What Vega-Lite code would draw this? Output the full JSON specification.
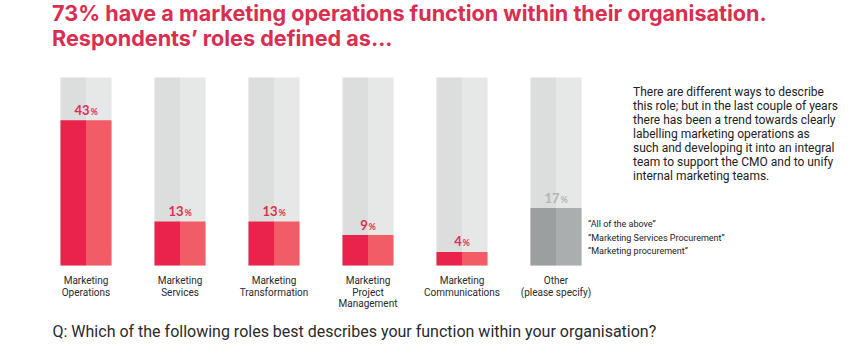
{
  "$schema": "https://vega.github.io/schema/vega-lite/v6.json",
  "autosize": {"type": "none"},
  "width": 564,
  "height": 188,
  "padding": {"left": 39, "top": 77.5, "right": 249, "bottom": 91.5},
  "background": "#ffffff",
  "config": {"view": {"stroke": null}},
  "title": {
    "text": ["73% have a marketing operations function within their organisation.", "Respondents’ roles defined as..."],
    "anchor": "start",
    "frame": "group",
    "dx": 13,
    "offset": 27,
    "font": "Inter",
    "fontSize": 21.6,
    "fontWeight": "bold",
    "lineHeight": 25,
    "color": "#d92e4f"
  },
  "data": {
    "values": [
      {"category": "Marketing Operations", "value": 43},
      {"category": "Marketing Services", "value": 13},
      {"category": "Marketing Transformation", "value": 13},
      {"category": "Marketing Project Management", "value": 9},
      {"category": "Marketing Communications", "value": 4},
      {"category": "Other (please specify)", "value": 17}
    ]
  },
  "encoding": {
    "x": {
      "field": "category",
      "type": "nominal",
      "sort": null,
      "scale": {"paddingInner": 0.457, "paddingOuter": 0.2285},
      "axis": {
        "domain": false,
        "ticks": false,
        "labelAngle": 0,
        "labelFont": "Roboto",
        "labelFontSize": 10,
        "labelColor": "#2a2a2a",
        "labelLineHeight": 11.5,
        "labelPadding": 10,
        "labelExpr": "datum.label == 'Other (please specify)' ? ['Other', '(please specify)'] : split(datum.label, ' ')",
        "title": "Q: Which of the following roles best describes your function within your organisation?",
        "titleAnchor": "start",
        "titleAlign": "left",
        "titleX": 13,
        "titleY": 71,
        "titleBaseline": "alphabetic",
        "titleFont": "Roboto",
        "titleFontSize": 16,
        "titleFontWeight": "normal",
        "titleColor": "#2a2a2a"
      }
    }
  },
  "layer": [
    {
      "mark": {
        "type": "bar",
        "fill": {"gradient": "linear", "x1": 0, "y1": 0, "x2": 1, "y2": 0,
          "stops": [
            {"offset": 0, "color": "#dcdddd"},
            {"offset": 0.5, "color": "#dcdddd"},
            {"offset": 0.5, "color": "#e6e7e7"},
            {"offset": 1, "color": "#e6e7e7"}
          ]}
      },
      "encoding": {}
    },
    {
      "mark": {"type": "bar"},
      "encoding": {
        "y": {"field": "value", "type": "quantitative", "scale": {"domain": [0, 55.7], "nice": false}, "axis": null},
        "fill": {
          "condition": {
            "test": "datum.category === 'Other (please specify)'",
            "value": {"gradient": "linear", "x1": 0, "y1": 0, "x2": 1, "y2": 0,
              "stops": [
                {"offset": 0, "color": "#9c9fa0"},
                {"offset": 0.5, "color": "#9c9fa0"},
                {"offset": 0.5, "color": "#abaeaf"},
                {"offset": 1, "color": "#abaeaf"}
              ]}
          },
          "value": {"gradient": "linear", "x1": 0, "y1": 0, "x2": 1, "y2": 0,
            "stops": [
              {"offset": 0, "color": "#ea234d"},
              {"offset": 0.5, "color": "#ea234d"},
              {"offset": 0.5, "color": "#f25c66"},
              {"offset": 1, "color": "#f25c66"}
            ]}
        }
      }
    },
    {
      "mark": {"type": "text", "font": "Lato", "fontWeight": "bold", "fontSize": 13, "align": "center", "baseline": "alphabetic", "dx": -4, "dy": -5.5},
      "encoding": {
        "y": {"field": "value", "type": "quantitative"},
        "text": {"field": "value", "type": "quantitative", "format": "d"},
        "color": {
          "condition": {"test": "datum.category === 'Other (please specify)'", "value": "#b3b5b6"},
          "value": "#dc2f52"
        }
      }
    },
    {
      "transform": [{"filter": "datum.value >= 10"}],
      "mark": {"type": "text", "font": "Lato", "fontWeight": "bold", "fontSize": 9, "align": "left", "baseline": "alphabetic", "dx": 4.5, "dy": -5.5, "text": "%"},
      "encoding": {
        "y": {"field": "value", "type": "quantitative"},
        "color": {
          "condition": {"test": "datum.category === 'Other (please specify)'", "value": "#b3b5b6"},
          "value": "#dc2f52"
        }
      }
    },
    {
      "transform": [{"filter": "datum.value < 10"}],
      "mark": {"type": "text", "font": "Lato", "fontWeight": "bold", "fontSize": 9, "align": "left", "baseline": "alphabetic", "dx": 0.5, "dy": -5.5, "text": "%", "color": "#dc2f52"},
      "encoding": {
        "y": {"field": "value", "type": "quantitative"}
      }
    },
    {
      "transform": [{"filter": "datum.category === 'Other (please specify)'"}],
      "mark": {
        "type": "text",
        "align": "left",
        "baseline": "top",
        "font": "Roboto",
        "fontSize": 12,
        "lineHeight": 14,
        "color": "#222222",
        "dx": 77,
        "dy": 9,
        "text": [
          "There are different ways to describe",
          "this role; but in the last couple of years",
          "there has been a trend towards clearly",
          "labelling marketing operations as",
          "such and developing it into an integral",
          "team to support the CMO and to unify",
          "internal marketing teams."
        ]
      },
      "encoding": {
        "y": {"datum": 55.7, "type": "quantitative"}
      }
    },
    {
      "transform": [{"filter": "datum.category === 'Other (please specify)'"}],
      "mark": {
        "type": "text",
        "align": "left",
        "baseline": "top",
        "font": "Roboto",
        "fontSize": 9,
        "lineHeight": 13.5,
        "color": "#222222",
        "dx": 32,
        "dy": 12,
        "text": [
          "“All of the above”",
          "“Marketing Services Procurement”",
          "“Marketing procurement”"
        ]
      },
      "encoding": {
        "y": {"field": "value", "type": "quantitative"}
      }
    }
  ]
}
